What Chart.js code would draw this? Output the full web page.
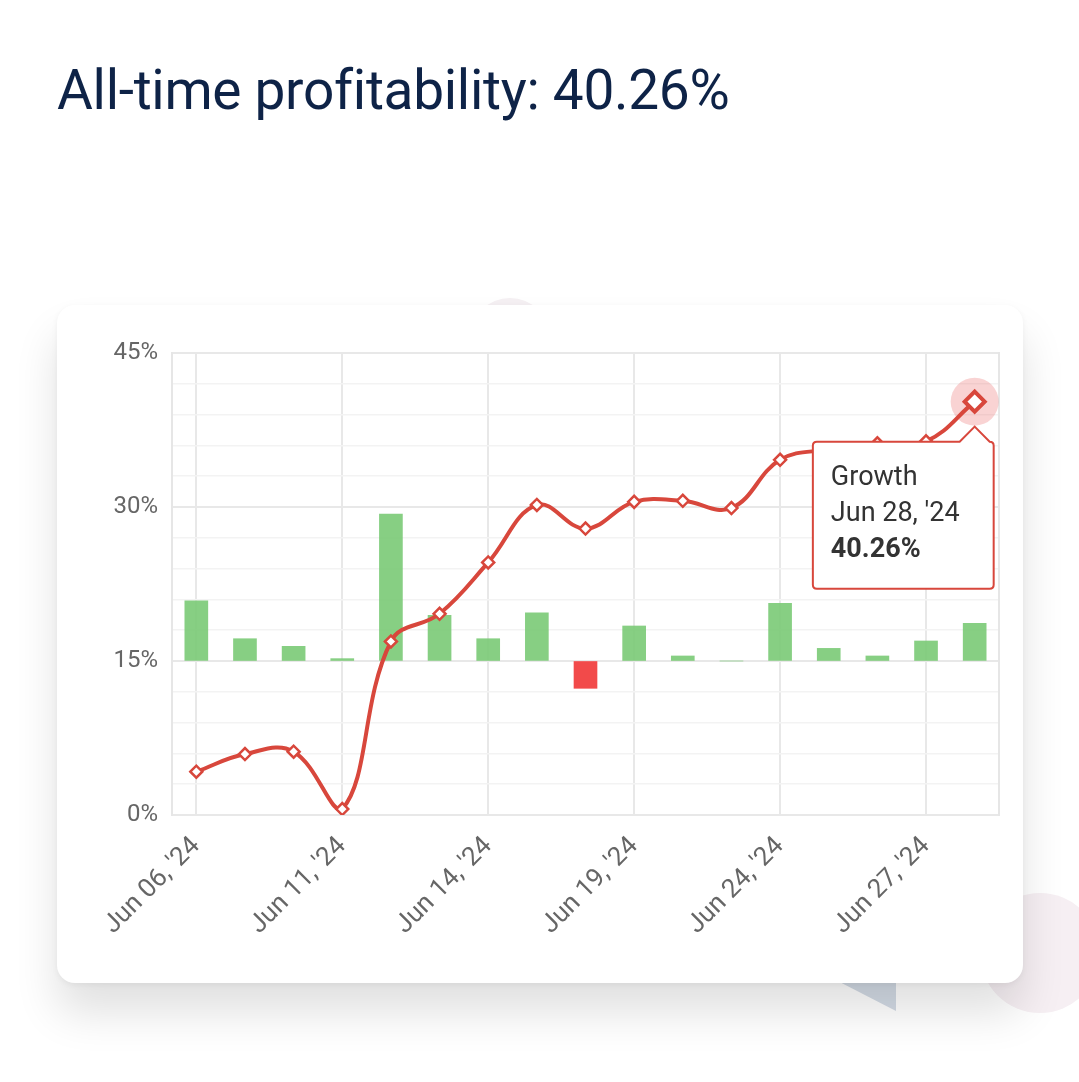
<!DOCTYPE html>
<html>
<head>
<meta charset="utf-8">
<script src="https://cdn.jsdelivr.net/npm/chart.js@4.4.0/dist/chart.umd.min.js"></script>
<style>
  html, body { margin: 0; padding: 0; background: #fff; }
  body { width: 1079px; height: 1082px; position: relative; overflow: hidden; font-family: Roboto, sans-serif; }
  h1 { position: absolute; left: 57px; top: 58px; margin: 0; font-family: Roboto, sans-serif; font-weight: 400; font-size: 55px; color: #0e2347; letter-spacing: -0.3px; }
  .blob { position: absolute; left: 980px; top: 893px; width: 120px; height: 120px; border-radius: 50%; background: #f6eff3; }
  .blob2 { position: absolute; left: 470px; top: 298px; width: 80px; height: 80px; border-radius: 50%; background: #f5f0f3; }
  .tri { position: absolute; left: 826px; top: 975px; width: 70px; height: 36px; background: #d3dbe5; clip-path: polygon(0 0, 100% 0, 100% 100%); }
  .card { position: absolute; left: 57px; top: 305px; width: 966px; height: 678px; background: #fff; border-radius: 18px;
          box-shadow: 0 30px 44px rgba(0,0,0,0.12), 0 2px 6px rgba(0,0,0,0.05); }
  .card canvas { position: absolute; left: 0; top: 0; }
</style>
</head>
<body>
<h1>All-time profitability: 40.26%</h1>
<div class="blob"></div>
<div class="blob2"></div>
<div class="tri"></div>
<div class="card"><canvas id="growthChart" width="966" height="678"></canvas></div>
<script>
// Fechas (días de mercado)
var labels = ["Jun 06, '24", "Jun 07, '24", "Jun 10, '24", "Jun 11, '24", "Jun 12, '24", "Jun 13, '24",
  "Jun 14, '24", "Jun 17, '24", "Jun 18, '24", "Jun 19, '24", "Jun 20, '24", "Jun 21, '24",
  "Jun 24, '24", "Jun 25, '24", "Jun 26, '24", "Jun 27, '24", "Jun 28, '24"];

// Crecimiento acumulado (%)
var growth = [4.22, 5.94, 6.17, 0.58, 16.9, 19.6, 24.6, 30.2, 27.9, 30.5, 30.6, 29.9, 34.6, 35.6, 36.2, 36.4, 40.26];

// Resultado diario (barras)
var daily = [5.87, 2.17, 1.43, 0.23, 14.3, 4.45, 2.17, 4.68, -2.66, 3.41, 0.49, 0, 5.62, 1.23, 0.49, 1.95, 3.67];

var yTicks = [0, 15, 30, 45];
var activeIndex = 16;

// Halo rosado detrás del punto activo
var haloPlugin = {
  id: 'halo',
  beforeDatasetsDraw: function (chart) {
    var pt = chart.getDatasetMeta(0).data[activeIndex];
    if (!pt) return;
    var c = chart.ctx;
    c.save();
    c.beginPath();
    c.arc(pt.x, pt.y, 24, 0, Math.PI * 2);
    c.fillStyle = 'rgba(235, 110, 110, 0.3)';
    c.fill();
    c.restore();
  }
};

var ctx = document.getElementById('growthChart').getContext('2d');

var chart = new Chart(ctx, {
  data: {
    labels: labels,
    datasets: [{
      type: 'line',
      label: 'Growth',
      data: growth,
      yAxisID: 'y',
      order: 0,
      borderColor: '#d8473c',
      borderWidth: 4,
      tension: 0.4,
      pointStyle: 'rectRot',
      pointRadius: 6,
      pointBorderWidth: 2.5,
      pointBackgroundColor: '#fff',
      pointBorderColor: '#d8473c',
      pointHoverRadius: 10,
      pointHoverBorderWidth: 4,
      pointHoverBackgroundColor: '#fff',
      pointHoverBorderColor: '#d8473c'
    }, {
      type: 'bar',
      label: 'Daily',
      data: daily,
      yAxisID: 'y1',
      order: 1,
      backgroundColor: daily.map(function (v) { return v < 0 ? '#f24a4a' : 'rgba(118, 200, 114, 0.88)'; }),
      barThickness: 23
    }]
  },
  options: {
    responsive: false,
    animation: false,
    events: [],
    layout: { padding: { top: 48, left: 0, right: 0, bottom: 0 } },
    plugins: {
      legend: { display: false },
      tooltip: {
        enabled: true,
        filter: function (item) { return item.datasetIndex === 0; },
        backgroundColor: '#fff',
        borderColor: '#d8473c',
        borderWidth: 2,
        cornerRadius: 4,
        caretSize: 15,
        caretPadding: 25,
        xAlign: 'right',
        yAlign: 'top',
        displayColors: false,
        padding: { top: 20, bottom: 22, left: 18, right: 34 },
        titleColor: '#333',
        bodyColor: '#333',
        titleFont: { family: 'Roboto', size: 27, weight: 'normal' },
        bodyFont: { family: 'Roboto', size: 27, weight: 'bold' },
        titleSpacing: 4,
        titleMarginBottom: 4,
        callbacks: {
          title: function (items) { return ['Growth', items[0].label]; },
          label: function (item) { return item.parsed.y.toFixed(2) + '%'; }
        }
      }
    },
    scales: {
      x: {
        offset: true,
        afterFit: function (s) { s.height = 168; },
        grid: {
          offset: false,
          drawTicks: false,
          lineWidth: 2,
          color: function (c) { return c.index % 3 === 0 ? '#e8e8e8' : 'rgba(0,0,0,0)'; }
        },
        border: { display: false },
        ticks: {
          autoSkip: false,
          minRotation: 45,
          maxRotation: 45,
          padding: 16,
          color: '#666',
          font: { family: 'Roboto', size: 26 },
          callback: function (v, i) { return i % 3 === 0 ? labels[i] : ''; }
        }
      },
      y: {
        position: 'left',
        min: 0,
        max: 45,
        afterFit: function (s) { s.width = 115; },
        border: { display: true, color: '#e6e6e6', width: 2 },
        grid: {
          drawTicks: false,
          lineWidth: function (c) { return c.tick.value % 15 === 0 ? 2 : 1.5; },
          color: function (c) { return c.tick.value % 15 === 0 ? '#e8e8e8' : '#f3f3f3'; }
        },
        ticks: {
          stepSize: 3,
          autoSkip: false,
          padding: 14,
          color: '#666',
          font: { family: 'Roboto', size: 24 },
          callback: function (v) { return yTicks.indexOf(v) >= 0 ? v + '%' : ''; }
        }
      },
      y1: {
        position: 'right',
        min: -15,
        max: 30,
        afterFit: function (s) { s.width = 24; },
        border: { display: true, color: '#e6e6e6', width: 2 },
        grid: { drawOnChartArea: false, drawTicks: false },
        ticks: { display: false }
      }
    }
  },
  plugins: [haloPlugin]
});

chart.setActiveElements([{ datasetIndex: 0, index: activeIndex }]);
chart.tooltip.setActiveElements([{ datasetIndex: 0, index: activeIndex }], { x: 0, y: 0 });
chart.update();
</script>
</body>
</html>
